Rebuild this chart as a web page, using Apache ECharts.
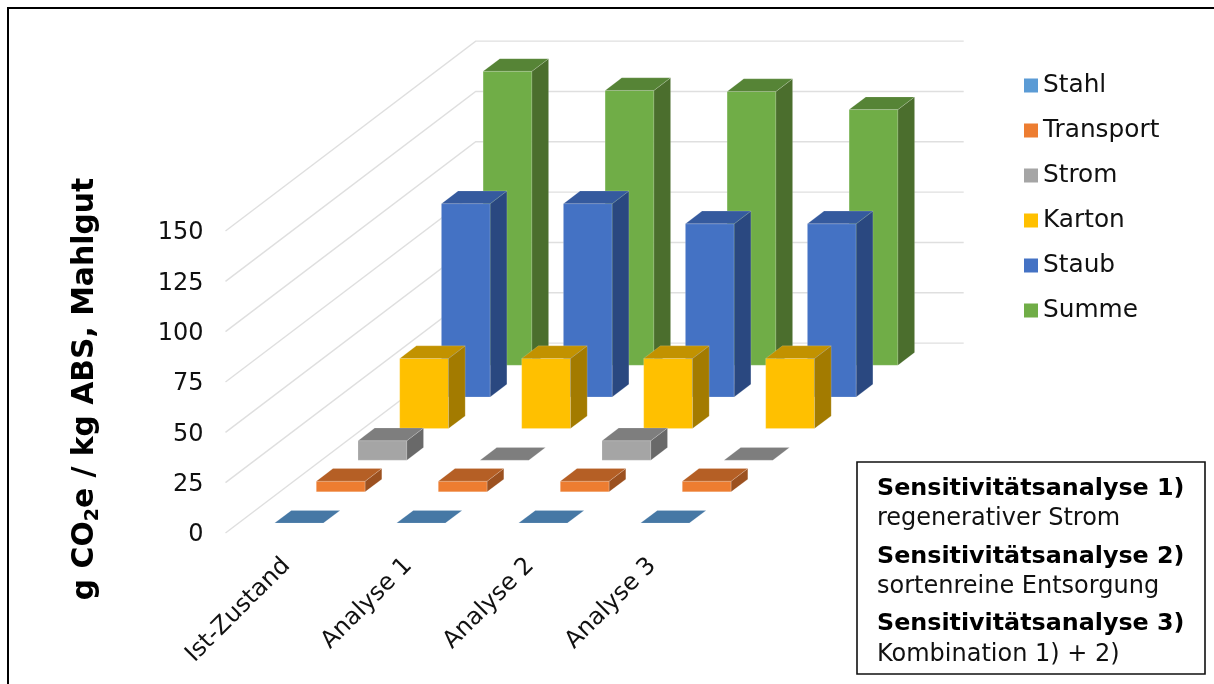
<!DOCTYPE html>
<html>
<head>
<meta charset="utf-8">
<style>html,body{margin:0;padding:0;background:#fff}#chart{width:1214px;height:684px}</style>
<script src="https://cdn.jsdelivr.net/npm/echarts@6/dist/echarts.min.js"></script>
</head>
<body>
<div id="chart"></div>
<script>
// CO2 footprint per kg of milled ABS, by scenario and contribution
const categories = ['Ist-Zustand', 'Analyse 1', 'Analyse 2', 'Analyse 3'];
const stahl     = [0.2, 0.2, 0.2, 0.2];
const transport = [5.3, 5.3, 5.3, 5.3];
const strom     = [9.7, 0, 9.7, 0];
const karton    = [34.8, 34.8, 34.8, 34.8];
const staub     = [96, 96, 86, 86];
const summe     = [146, 136.5, 136, 127];
const valueTicks = [0, 25, 50, 75, 100, 125, 150];
const noteLines = [
  ['Sensitivitätsanalyse 1)', 'regenerativer Strom'],
  ['Sensitivitätsanalyse 2)', 'sortenreine Entsorgung'],
  ['Sensitivitätsanalyse 3)', 'Kombination 1) + 2)']
];

const FONT = '"DejaVu Sans", Verdana, sans-serif';
const rows = [
  { name: 'Stahl',     values: stahl,     front: '#5B9BD5', top: '#4678A5', side: '#3A6288' },
  { name: 'Transport', values: transport, front: '#ED7D31', top: '#B55F25', side: '#9C5120' },
  { name: 'Strom',     values: strom,     front: '#A5A5A5', top: '#7E7E7E', side: '#696969' },
  { name: 'Karton',    values: karton,    front: '#FFC000', top: '#C29200', side: '#A37B00' },
  { name: 'Staub',     values: staub,     front: '#4472C4', top: '#355A9E', side: '#2A4880' },
  { name: 'Summe',     values: summe,     front: '#70AD47', top: '#568436', side: '#4B6E2D' }
];

// Oblique projection: each row steps back by this screen offset
const ROW_DX = 41.7, ROW_DY = -31.65;
const DEPTH_FILL = 0.4, BAR_FILL = 0.4;
const rowCount = rows.length;

function poly(points, fill) {
  return {
    type: 'polygon',
    shape: { points },
    style: { fill, stroke: 'rgba(255,255,255,0.16)', lineWidth: 1 }
  };
}

function barRenderer(rowIndex, colors) {
  return function (params, api) {
    const cat = api.value(0), val = api.value(1);
    const base = api.coord([cat, 0]);
    const head = api.coord([cat, val]);
    const w = api.size([1, 0])[0] * BAR_FILL;
    const gap = (1 - DEPTH_FILL) / 2;
    const ox = ROW_DX * (rowIndex + gap), oy = ROW_DY * (rowIndex + gap);
    const dx = ROW_DX * DEPTH_FILL, dy = ROW_DY * DEPTH_FILL;
    const xl = base[0] - w / 2 + ox, xr = xl + w;
    const yb = base[1] + oy, yt = head[1] + oy;
    const children = [];
    if (yb - yt > 0.6) {
      children.push(poly([[xl, yb], [xr, yb], [xr, yt], [xl, yt]], colors.front));
      children.push(poly([[xr, yb], [xr + dx, yb + dy], [xr + dx, yt + dy], [xr, yt]], colors.side));
    }
    children.push(poly([[xl, yt], [xr, yt], [xr + dx, yt + dy], [xl + dx, yt + dy]], colors.top));
    return { type: 'group', children };
  };
}

// Side-wall and back-wall gridlines, one polyline per value tick
function wallLine(params, api) {
  const rect = params.coordSys;
  const y = api.coord([0, api.value(0)])[1];
  const bx = rect.x + ROW_DX * rowCount, by = y + ROW_DY * rowCount;
  return {
    type: 'polyline',
    shape: { points: [[rect.x, y], [bx, by], [bx + rect.width, by]] },
    style: { fill: 'none', stroke: '#DFDFDF', lineWidth: 1.4 }
  };
}

const series = [{
  name: 'Gitter',
  type: 'custom',
  z: 1,
  silent: true,
  renderItem: wallLine,
  encode: { x: -1, y: 0 },
  data: valueTicks.map(v => [v])
}];
rows.forEach((r, i) => {
  series.push({
    name: r.name,
    type: 'custom',
    z: 2 + rowCount - i,
    itemStyle: { color: r.front },
    renderItem: barRenderer(i, r),
    encode: { x: 0, y: 1 },
    data: r.values.map((v, c) => [c, v])
  });
});

const graphic = [
  {
    type: 'polyline', z: 50, silent: true,
    shape: { points: [[8, 684], [8, 8], [1214, 8]] },
    style: { fill: 'none', stroke: '#000', lineWidth: 2 }
  },
  {
    type: 'text', z: 50, silent: true,
    x: 85, y: 389, rotation: Math.PI / 2,
    style: {
      text: '{t|g CO}{s|2}{t|e / kg ABS, Mahlgut}',
      align: 'center', verticalAlign: 'middle',
      rich: {
        t: { fontFamily: FONT, fontWeight: 'bold', fontSize: 29.8, fill: '#000', height: 36 },
        s: { fontFamily: FONT, fontWeight: 'bold', fontSize: 19, fill: '#000', verticalAlign: 'bottom', padding: [10, 0, 0, 0] }
      }
    }
  },
  {
    type: 'rect', z: 50, silent: true,
    shape: { x: 857, y: 462, width: 348, height: 212 },
    style: { fill: '#fff', stroke: '#111', lineWidth: 1.6 }
  }
];
noteLines.forEach((pair, k) => {
  graphic.push({
    type: 'text', z: 51, silent: true, x: 877, y: 489 + k * 67.5,
    style: { text: pair[0], font: 'bold 23.8px ' + FONT, fill: '#000', verticalAlign: 'middle' }
  });
  graphic.push({
    type: 'text', z: 51, silent: true, x: 877, y: 518.5 + k * 68,
    style: { text: pair[1], font: '24px ' + FONT, fill: '#111', verticalAlign: 'middle' }
  });
});

const chart = echarts.init(document.getElementById('chart'), null, { renderer: 'canvas' });
chart.setOption({
  animation: false,
  backgroundColor: '#fff',
  grid: { left: 225.5, top: 231, width: 488, height: 302, containLabel: false },
  xAxis: {
    type: 'category',
    data: categories,
    axisLine: { show: false },
    axisTick: { show: false },
    splitLine: { show: false },
    axisLabel: { interval: 0, rotate: 45, margin: 29, fontFamily: FONT, fontSize: 24, color: '#111' }
  },
  yAxis: {
    type: 'value',
    min: 0, max: 150, interval: 25,
    axisLine: { show: false },
    axisTick: { show: false },
    splitLine: { show: false },
    axisLabel: {
      margin: 22,
      formatter: '{v|{value}}',
      rich: { v: { fontFamily: FONT, fontSize: 24, color: '#111', padding: [4, 0, 0, 0] } }
    }
  },
  legend: {
    left: 1019, top: 68,
    orient: 'vertical',
    icon: 'rect',
    itemWidth: 14, itemHeight: 14, itemGap: 20,
    data: rows.map(r => r.name),
    selectedMode: false,
    textStyle: { fontFamily: FONT, fontSize: 24.8, color: '#111' }
  },
  graphic,
  series
});
</script>
</body>
</html>
